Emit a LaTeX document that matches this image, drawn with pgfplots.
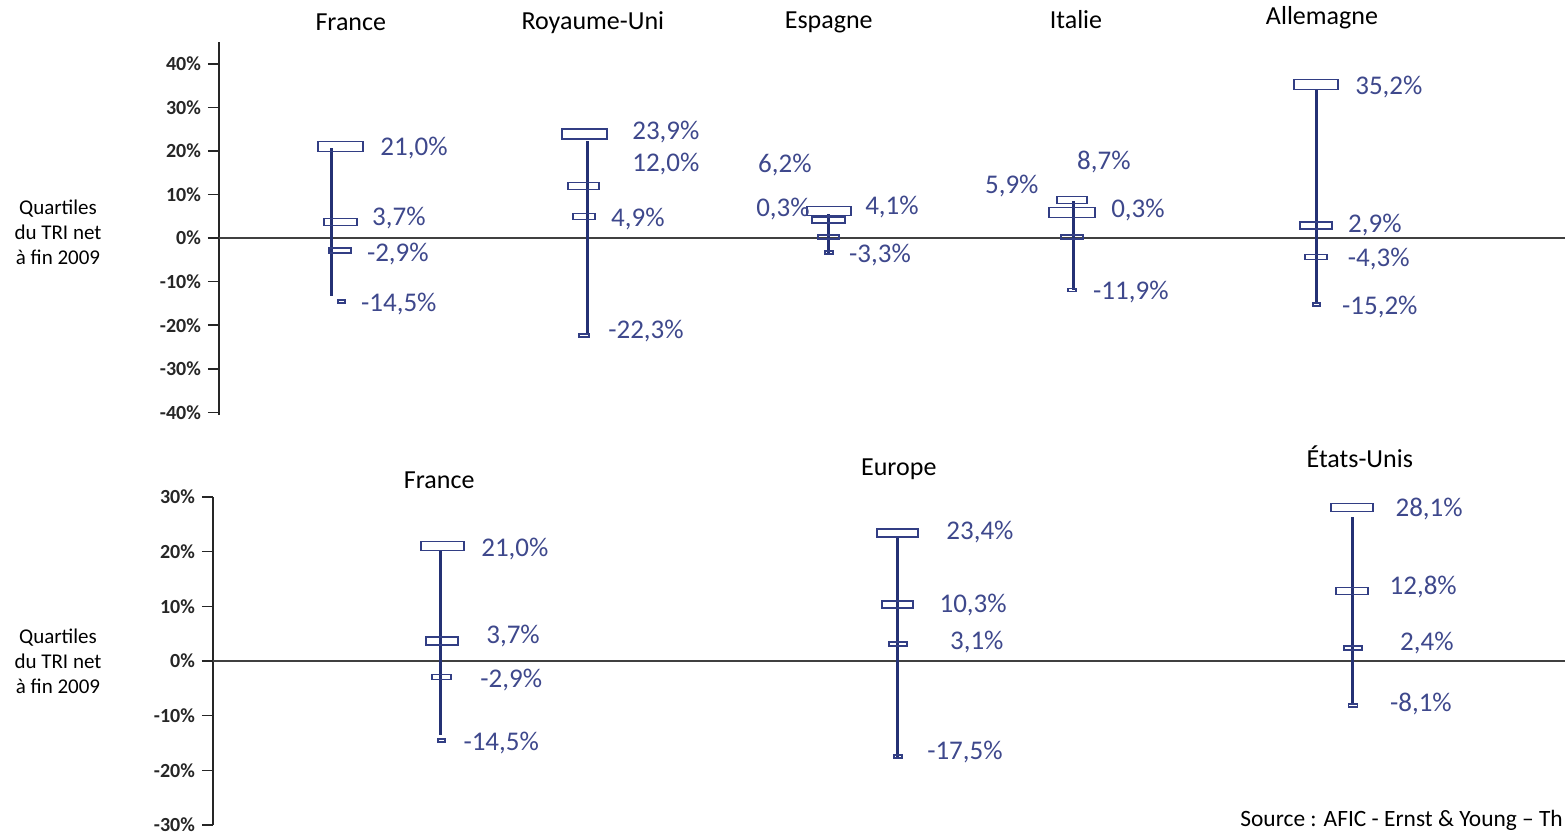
\documentclass[border=0pt]{standalone}
\usepackage{fontspec}
\setmainfont{Carlito}
\usepackage{pgfplots}
\pgfplotsset{compat=1.18}

\definecolor{navy}{RGB}{36,49,116}
\definecolor{boxc}{RGB}{50,62,132}
\definecolor{labc}{RGB}{62,72,140}
\newcommand{\lab}{\fontsize{13.5}{16}\selectfont}
\newcommand{\ttl}{\fontsize{13}{16}\selectfont}

\pgfplotsset{
  qpanel/.style={
    scale only axis, clip=false,
    axis x line=none, axis y line*=left,
    xtick=\empty,
    tick align=outside, major tick length=5.5pt,
    y axis line style={black!85, line width=0.8pt},
    ytick style={black!85, line width=0.8pt},
    yticklabel={\pgfmathprintnumber{\tick}\%},
    yticklabel style={font=\bfseries\fontsize{10}{12}\selectfont, text=black!85},
    /pgf/number format/assume math mode=true,
    extra y ticks={0}, extra y tick labels={},
    extra y tick style={grid=major, major grid style={black!75, line width=0.8pt}},
  },
  qbox/.style={scatter, only marks, mark=square, mark size=0.5pt,
    scatter/use mapped color={draw=boxc},
    mark options={line width=0.75pt},
    visualization depends on={\thisrow{w} \as \bw},
    visualization depends on={\thisrow{h} \as \bh},
    scatter/@pre marker code/.append style={/tikz/xscale=\bw,/tikz/yscale=\bh}},
  qline/.style={navy, line width=1.5pt, unbounded coords=jump},
  qlab/.style={only marks, mark=none, point meta=explicit symbolic,
    nodes near coords={\pgfplotspointmeta\%},
    nodes near coords style={anchor=center, text=labc, font=\lab, inner sep=0pt}},
}

\begin{document}
\begin{tikzpicture}
\useasboundingbox (0,0) rectangle (782.5pt,416pt);

% ---- panneau du haut : pays europeens
\begin{axis}[qpanel,
    at={(109.5pt,208.5pt)}, anchor=south west,
    width=673pt, height=186.5pt,
    xmin=-0.465, xmax=5.029, ymin=-40.6, ymax=45,
    ytick={-40,-30,...,40}]
\addplot[qbox] table {
x y w h
0.031 21.0 22.5 5
0.031 3.7 16.5 3.5
0.029 -2.9 11 2.5
0.035 -14.5 3.5 1.5
1.027 23.9 22.5 5
1.022 12.0 15.5 3.5
1.024 4.9 11 3
1.024 -22.3 5 1.5
2.024 6.2 22 4.5
2.022 4.1 16.5 3
2.022 0.3 10.5 2
2.024 -3.3 4 1.5
3.016 8.7 15 3.5
3.016 5.9 23 5
3.016 0.3 11 2
3.016 -11.9 4 1.5
4.012 35.2 22 5
4.012 2.9 16 3.5
4.012 -4.3 11 2.5
4.014 -15.2 3.5 1.5
};
\addplot[qline] coordinates {
(-0.004,20.6) (-0.004,-13.3) (0,nan)
(1.041,22.2) (1.041,-22.3) (0,nan)
(2.024,5.5) (2.024,-3.4) (0,nan)
(3.024,8.5) (3.024,-11.9) (0,nan)
(4.016,34.2) (4.016,-14.7)
};
\addplot[qlab] table[meta=l] {
x y l
0.331 20.6 21,0
0.269 4.6 3,7
0.265 -3.7 -2,9
0.269 -15.1 -14,5
1.359 24.3 23,9
1.359 17.0 12,0
1.245 4.4 4,9
1.278 -21.3 -22,3
1.845 16.7 6,2
1.837 6.7 0,3
2.282 7.1 4,1
2.233 -3.9 -3,3
3.147 17.4 8,7
2.771 11.9 5,9
3.286 6.4 0,3
3.257 -12.4 -11,9
4.310 34.6 35,2
4.253 3.0 2,9
4.269 -4.8 -4,3
4.273 -15.8 -15,2
};
\node[font=\ttl] at (axis cs:0.073,49.5) {France};
\node[font=\ttl] at (axis cs:1.061,49.5) {Royaume-Uni};
\node[font=\ttl] at (axis cs:2.024,49.5) {Espagne};
\node[font=\ttl] at (axis cs:3.033,50.2) {Italie};
\node[font=\ttl] at (axis cs:4.037,50.5) {Allemagne};
\end{axis}

% ---- panneau du bas : France, Europe, Etats-Unis
\begin{axis}[qpanel,
    at={(106.5pt,3.5pt)}, anchor=south west,
    width=676pt, height=164pt,
    xmin=-0.5, xmax=2.465, ymin=-30, ymax=30,
    ytick={-30,-20,...,30}]
\addplot[qbox] table {
x y w h
0.003 21.0 21.5 4.5
0.002 3.7 16 4
0.001 -2.9 9.5 2.5
0.001 -14.5 3.5 1.5
1.001 23.4 20.5 4
1.001 10.3 15.5 3.5
1.002 3.1 9 2
1.002 -17.5 4 1.5
1.998 28.1 21 4
1.998 12.8 16 3.5
2.000 2.4 9 2
2.000 -8.1 4.5 1.5
};
\addplot[qline] coordinates {
(0,20.3) (0,-13.5) (0,nan)
(1.002,22.7) (1.002,-17.5) (0,nan)
(1.998,26.3) (1.998,-8.1)
};
\addplot[qlab] table[meta=l] {
x y l
0.162 20.5 21,0
0.158 4.6 3,7
0.154 -3.5 -2,9
0.132 -15.0 -14,5
1.182 23.6 23,4
1.167 10.2 10,3
1.175 3.5 3,1
1.149 -16.6 -17,5
2.167 27.8 28,1
2.154 13.5 12,8
2.162 3.3 2,4
2.149 -7.9 -8,1
};
\node[font=\ttl] at (axis cs:-0.004,33.1) {France};
\node[font=\ttl] at (axis cs:1.004,35.1) {Europe};
\node[font=\ttl] at (axis cs:2.015,37.3) {États-Unis};
\end{axis}

\node[align=center, font=\fontsize{10.5}{12.5}\selectfont] at (29pt,300pt) {Quartiles\\du TRI net\\à fin 2009};
\node[align=center, font=\fontsize{10.5}{12.5}\selectfont] at (29pt,85.5pt) {Quartiles\\du TRI net\\à fin 2009};
\node[anchor=base west, inner sep=0pt, font=\fontsize{11.7}{13}\selectfont] at (620pt,3pt) {Source : AFIC - Ernst \& Young – Th};
\end{tikzpicture}
\end{document}
